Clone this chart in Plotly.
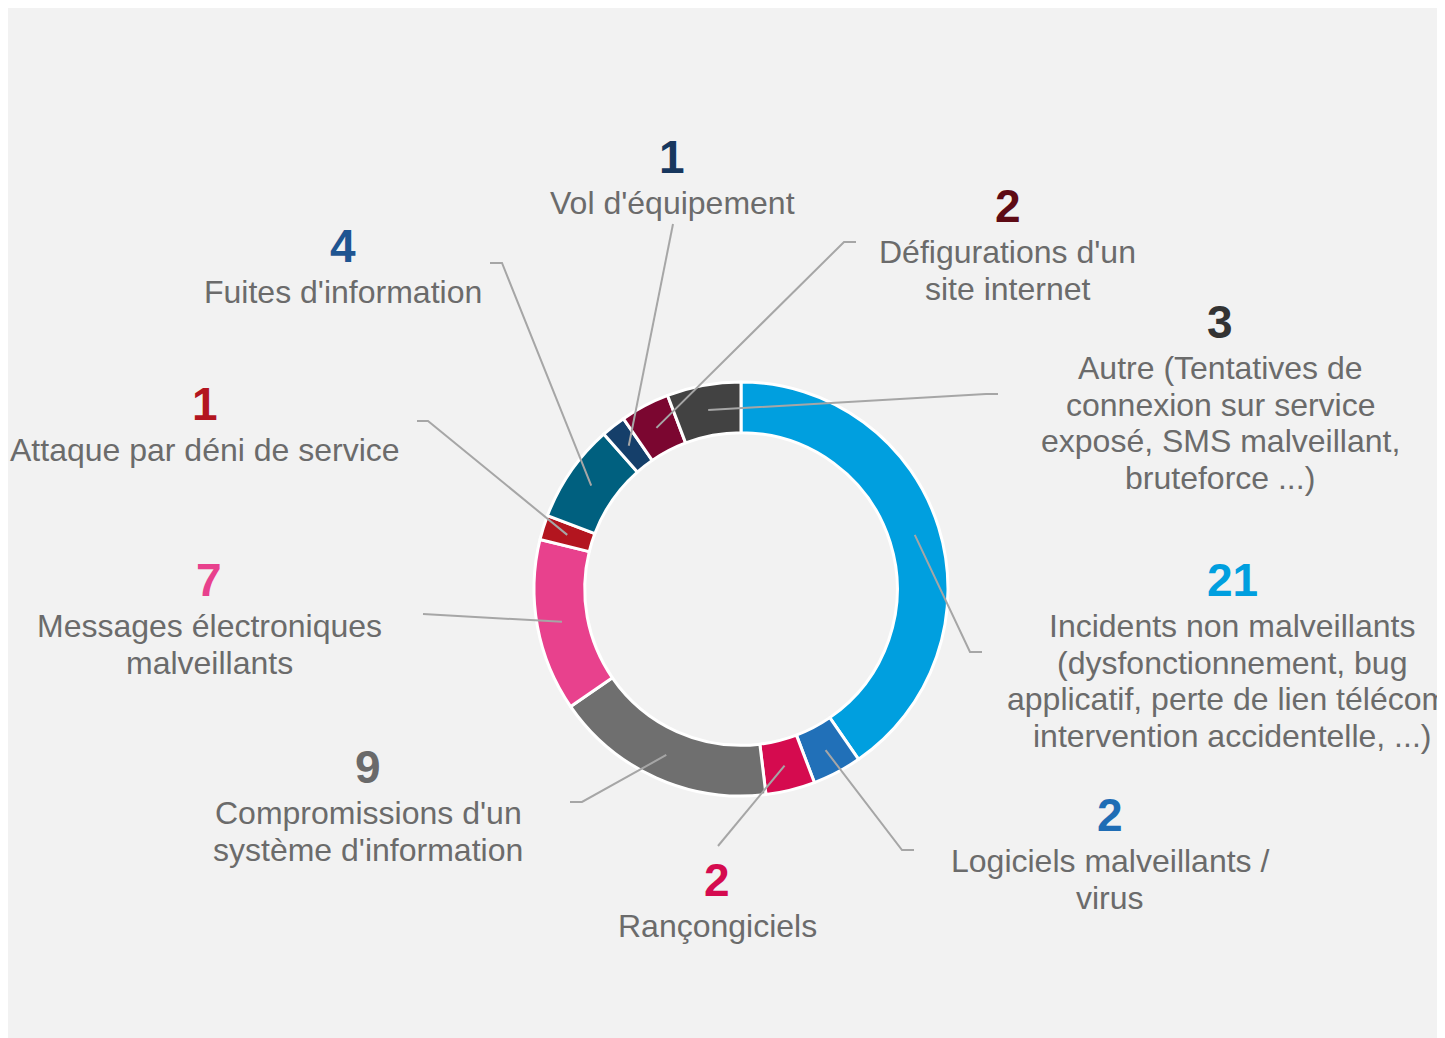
import plotly.graph_objects as go
import math

# ---- data ----
categories = [
    "Incidents non malveillants\n(dysfonctionnement, bug\napplicatif, perte de lien télécom,\nintervention accidentelle, ...)",
    "Logiciels malveillants /\nvirus",
    "Rançongiciels",
    "Compromissions d'un\nsystème d'information",
    "Messages électroniques\nmalveillants",
    "Attaque par déni de service",
    "Fuites d'information",
    "Vol d'équipement",
    "Défigurations d'un\nsite internet",
    "Autre (Tentatives de\nconnexion sur service\nexposé, SMS malveillant,\nbruteforce ...)",
]
values = [21, 2, 2, 9, 7, 1, 4, 1, 2, 3]

# ---- styles ----
slice_colors = ["#009fdf", "#2170b8", "#d50b4f", "#6f6f6f", "#e8418d",
                "#b3151f", "#00607f", "#153f6a", "#7b0630", "#424242"]
number_colors = ["#009fdf", "#1f6db5", "#d50b4f", "#6a6a6a", "#e8418d",
                 "#b3151f", "#1f5591", "#17375e", "#5e0b15", "#333333"]

OFF = 8  # page body margin
W, H = 1445 - OFF, 1038 - OFF
CX, CY, R_OUT = 741, 589, 207
HOLE = 0.755
R_MID = 182

# label anchor (center x, number center y) in page pixels
label_pos = [(1232, 580), (1110, 815), (717, 880), (368, 767), (209, 580),
             (205, 404), (343, 246), (672, 157), (1008, 206), (1220, 322)]
# leader line path points after the slice start (elbow, end) in page pixels
leader_pts = [
    [(970, 652), (982, 652)],
    [(902, 850), (914, 850)],
    [(718, 846)],
    [(582, 802), (570, 802)],
    [(423, 614)],
    [(428, 421), (417, 421)],
    [(502, 263), (490, 263)],
    [(673, 224)],
    [(844, 242), (856, 242)],
    [(986, 394), (998, 394)],
]

def px(x):
    return (x - OFF) / W

def py(y):
    return 1 - (y - OFF) / H

fig = go.Figure()
fig.add_trace(go.Pie(
    values=values,
    labels=[c.split("\n")[0] for c in categories],
    sort=False,
    direction="clockwise",
    rotation=0,
    hole=HOLE,
    textinfo="none",
    hoverinfo="label+value",
    marker=dict(colors=slice_colors, line=dict(color="white", width=3)),
    domain=dict(x=[px(CX - R_OUT), px(CX + R_OUT)], y=[py(CY + R_OUT), py(CY - R_OUT)]),
    showlegend=False,
))

shapes = [dict(type="rect", xref="paper", yref="paper", x0=0, x1=1, y0=0, y1=1,
               fillcolor="#f2f2f2", line=dict(width=0), layer="below")]
annotations = []
total = sum(values)
cum = 0
FONT = "Liberation Sans, Arial, sans-serif"
for i, (cat, v) in enumerate(zip(categories, values)):
    mid = (cum + v / 2) / total * 2 * math.pi
    cum += v
    sx = CX + R_MID * math.sin(mid)
    sy = CY - R_MID * math.cos(mid)
    pts = [(sx, sy)] + leader_pts[i]
    path = "M " + " L ".join(f"{px(x):.5f},{py(y):.5f}" for x, y in pts)
    shapes.append(dict(type="path", xref="paper", yref="paper", path=path,
                       line=dict(color="#a6a6a6", width=2), layer="above"))
    lx, ly = label_pos[i]
    annotations.append(dict(x=px(lx), y=py(ly), xref="paper", yref="paper",
                            text=f"<b>{v}</b>", showarrow=False,
                            xanchor="center", yanchor="middle",
                            font=dict(family=FONT, size=46, color=number_colors[i])))
    for j, line in enumerate(cat.split("\n")):
        annotations.append(dict(x=px(lx), y=py(ly + 46 + 36.7 * j), xref="paper", yref="paper",
                                text=line, showarrow=False,
                                xanchor="center", yanchor="middle",
                                font=dict(family=FONT, size=32, color="#6b6b6b")))

fig.update_layout(
    width=W, height=H,
    margin=dict(l=0, r=0, t=0, b=0),
    paper_bgcolor="#f2f2f2",
    plot_bgcolor="#f2f2f2",
    shapes=shapes,
    annotations=annotations,
)
fig.write_html("out.html")
